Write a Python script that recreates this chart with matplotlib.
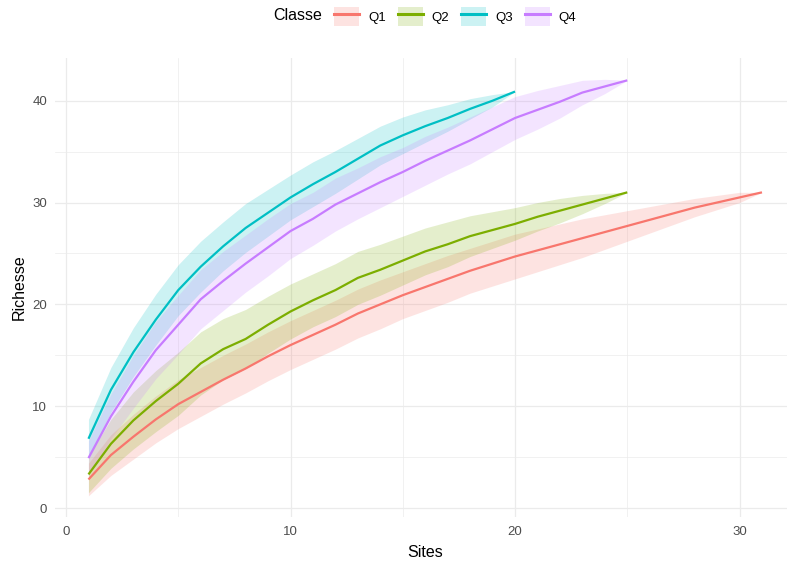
import matplotlib
matplotlib.use("Agg")
import matplotlib.pyplot as plt
from matplotlib.patches import Patch
from matplotlib.lines import Line2D
from matplotlib.ticker import MultipleLocator

plt.rcParams['font.family'] = ['Liberation Sans', 'DejaVu Sans']

# species accumulation: mean richness and standard deviation per number of sites
classes = ['Q1', 'Q2', 'Q3', 'Q4']
colors = ['#F8766D', '#7CAE00', '#00BFC4', '#C77CFF']

q1_mean = [2.8, 5.2, 7.0, 8.7, 10.2, 11.4, 12.6, 13.7, 14.9, 16.0, 17.0, 18.0, 19.1, 20.0, 20.9,
           21.7, 22.5, 23.3, 24.0, 24.7, 25.3, 25.9, 26.5, 27.1, 27.7, 28.3, 28.9, 29.5, 30.0, 30.5, 31.0]
q1_sd = [1.6, 2.0, 2.2, 2.3, 2.4, 2.4, 2.4, 2.4, 2.4, 2.4, 2.4, 2.4, 2.4, 2.4, 2.3,
         2.3, 2.3, 2.2, 2.2, 2.2, 2.1, 2.0, 1.9, 1.7, 1.5, 1.3, 1.1, 0.9, 0.7, 0.5, 0.0]

q2_mean = [3.3, 6.3, 8.6, 10.5, 12.2, 14.2, 15.6, 16.6, 18.0, 19.3, 20.4, 21.4, 22.6, 23.4, 24.3,
           25.2, 25.9, 26.7, 27.3, 27.9, 28.6, 29.2, 29.8, 30.4, 31.0]
q2_sd = [1.8, 2.4, 2.8, 3.0, 3.1, 3.1, 3.0, 2.9, 2.8, 2.7, 2.6, 2.6, 2.6, 2.5, 2.4,
         2.3, 2.2, 2.0, 1.8, 1.6, 1.4, 1.2, 0.9, 0.5, 0.0]

q3_mean = [6.8, 11.6, 15.3, 18.5, 21.4, 23.7, 25.7, 27.5, 29.0, 30.5, 31.8, 33.0, 34.3, 35.6, 36.6,
           37.5, 38.3, 39.2, 40.0, 40.9]
q3_sd = [1.9, 2.2, 2.4, 2.5, 2.5, 2.5, 2.4, 2.4, 2.3, 2.2, 2.2, 2.1, 2.0, 1.9, 1.8,
         1.6, 1.3, 1.0, 0.6, 0.0]

q4_mean = [4.9, 9.0, 12.4, 15.5, 18.0, 20.5, 22.3, 24.0, 25.6, 27.2, 28.4, 29.8, 30.9, 32.0, 33.0,
           34.1, 35.1, 36.1, 37.2, 38.3, 39.1, 39.9, 40.8, 41.4, 42.0]
q4_sd = [1.7, 2.2, 2.6, 2.8, 2.9, 2.9, 2.9, 2.8, 2.8, 2.7, 2.6, 2.6, 2.5, 2.5, 2.4,
         2.4, 2.3, 2.3, 2.2, 2.1, 1.9, 1.6, 1.2, 0.7, 0.0]

means = [q1_mean, q2_mean, q3_mean, q4_mean]
sds = [q1_sd, q2_sd, q3_sd, q4_sd]

fig = plt.figure(figsize=(7.87, 5.63), dpi=100)
ax = fig.add_axes([0.0696, 0.0824, 0.9414, 0.8137])

lows, highs = [], []
for name, col, m, s in zip(classes, colors, means, sds):
    sites = list(range(1, len(m) + 1))
    lo = [a - b for a, b in zip(m, s)]
    hi = [a + b for a, b in zip(m, s)]
    lows += lo
    highs += hi
    ax.fill_between(sites, lo, hi, color=col, alpha=0.2, linewidth=0)
for name, col, m in zip(classes, colors, means):
    sites = list(range(1, len(m) + 1))
    ax.plot(sites, m, color=col, linewidth=1.6, solid_capstyle='butt')

# ggplot-like 5% expansion
ymin, ymax = min(lows), max(highs)
pad = 0.05 * (ymax - ymin)
ax.set_ylim(ymin - pad, ymax + pad)
ax.set_xlim(-0.5, 32.5)

ax.xaxis.set_major_locator(MultipleLocator(10))
ax.xaxis.set_minor_locator(MultipleLocator(5))
ax.yaxis.set_major_locator(MultipleLocator(10))
ax.yaxis.set_minor_locator(MultipleLocator(5))
ax.grid(which='major', color='#EBEBEB', linewidth=0.9)
ax.grid(which='minor', color='#EBEBEB', linewidth=0.5)
ax.set_axisbelow(True)
for sp in ax.spines.values():
    sp.set_visible(False)
ax.tick_params(which='both', length=0, labelsize=9.5, labelcolor='#4D4D4D')
ax.tick_params(axis='x', pad=6.5)
ax.tick_params(axis='y', pad=5.5)

ax.set_xlabel('Sites', fontsize=11.5, labelpad=5)
ax.set_ylabel('Richesse', fontsize=11.5, labelpad=4)

handles = [(Patch(facecolor=c, alpha=0.2, edgecolor='none'), Line2D([], [], color=c, linewidth=2.2))
           for c in colors]
fig.text(273 / 787, 0.972, 'Classe', fontsize=11.5, ha='left', va='center')
fig.legend(handles, classes, loc='center left', bbox_to_anchor=(334 / 787, 0.971), ncol=4,
           frameon=False, fontsize=9.5, handlelength=1.9, handleheight=1.8,
           columnspacing=0.9, handletextpad=0.68, borderaxespad=0, borderpad=0)

fig.savefig('out.png', dpi=100)
